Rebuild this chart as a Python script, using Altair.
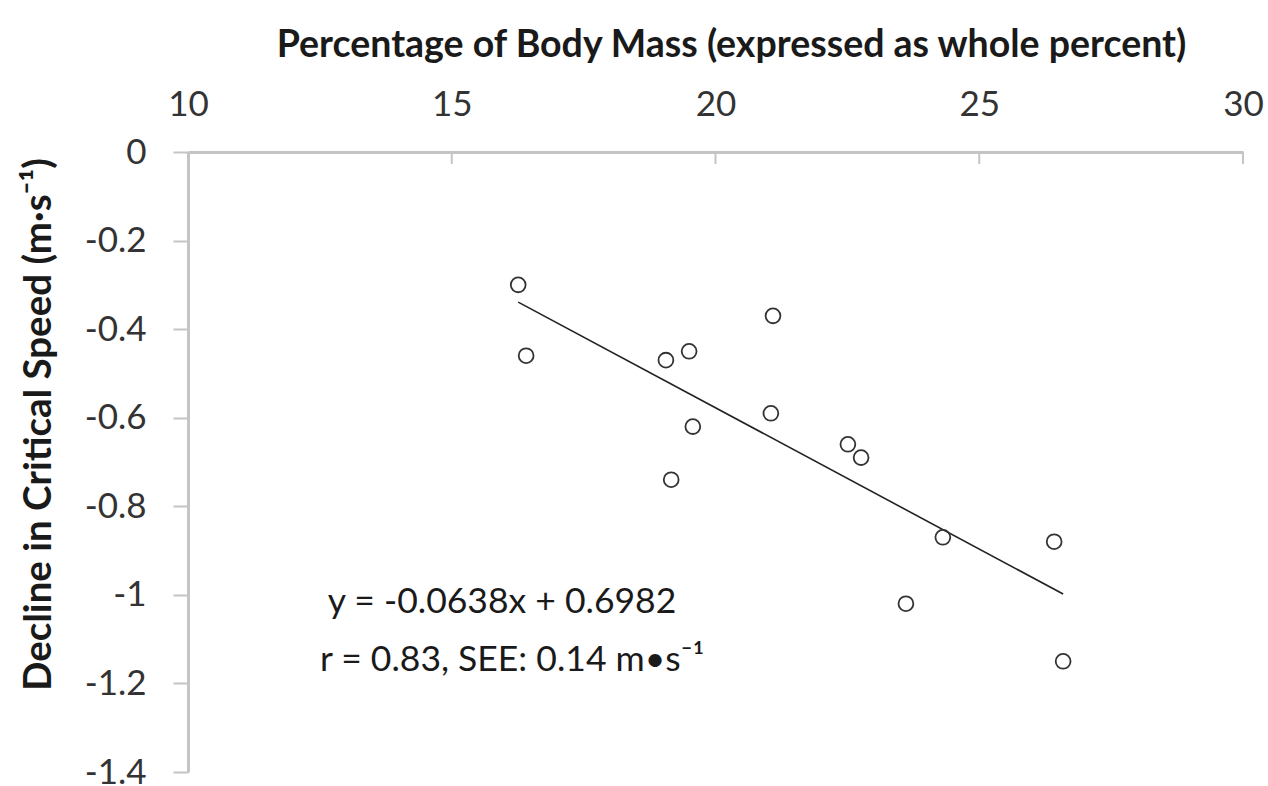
import altair as alt
import pandas as pd

# Data
body_mass_pct = [16.26, 16.41, 19.06, 19.50, 19.57, 19.16, 21.09, 21.05, 22.51, 22.76, 24.31, 23.61, 26.42, 26.59]
cs_decline = [-0.30, -0.46, -0.47, -0.45, -0.62, -0.74, -0.37, -0.59, -0.66, -0.69, -0.87, -1.02, -0.88, -1.15]

trend_x = [16.26, 26.59]
trend_y = [-0.339, -0.998]

x_ticks = [10, 15, 20, 25, 30]
y_ticks = [0, -0.2, -0.4, -0.6, -0.8, -1, -1.2, -1.4]

ann_text = ["y = -0.0638x + 0.6982", "r = 0.83, SEE: 0.14 m\u2022s\u207b\u00b9"]
ann_x = [12.65, 12.50]
ann_y = [-1.016, -1.147]

FONT = "Lato"
AXIS_GRAY = "#c4c4c4"

pts = pd.DataFrame({"x": body_mass_pct, "y": cs_decline})
trend = pd.DataFrame({"x": trend_x, "y": trend_y})
ticks = pd.DataFrame({"x": x_ticks})
ann = pd.DataFrame({"text": ann_text, "x": ann_x, "y": ann_y})

xscale = alt.Scale(domain=[10, 30], nice=False, zero=False)
yscale = alt.Scale(domain=[-1.4, 0], nice=False, zero=False)

xaxis = alt.Axis(
    orient="top", values=x_ticks, ticks=False, grid=False,
    domainColor=AXIS_GRAY, domainWidth=3,
    labelFont=FONT, labelFontSize=35, labelColor="#333333", labelPadding=30,
    labelFlush=False,
    title="Percentage of Body Mass (expressed as whole percent)",
    titleFont=FONT, titleFontSize=37.5, titleFontWeight="bold", titleColor="#1a1a1a",
    titleX=543, titleY=-107, titleBaseline="middle", titleAlign="center",
)
yaxis = alt.Axis(
    values=y_ticks, grid=False, tickColor=AXIS_GRAY, tickWidth=2, tickSize=15,
    domainColor=AXIS_GRAY, domainWidth=3,
    labelFont=FONT, labelFontSize=35, labelColor="#333333", labelPadding=27,
    labelExpr="toString(datum.value)", labelFlush=False,
    title="Decline in Critical Speed (m\u00b7s\u207b\u00b9)",
    titleFont=FONT, titleFontSize=38.5, titleFontWeight="bold", titleColor="#1a1a1a",
    titleAngle=-90, titleX=-150, titleY=272, titleBaseline="middle", titleAlign="center",
)

base_pts = alt.Chart(pts).mark_point(
    shape="circle", filled=False, size=220, stroke="#333333", strokeWidth=1.8, opacity=1
).encode(
    x=alt.X("x:Q", scale=xscale, axis=xaxis),
    y=alt.Y("y:Q", scale=yscale, axis=yaxis),
)

tick_rules = alt.Chart(ticks).mark_rule(color=AXIS_GRAY, strokeWidth=2).encode(
    x=alt.X("x:Q", scale=xscale),
    y=alt.value(0),
    y2=alt.value(12),
)

trend_line = alt.Chart(trend).mark_line(color="#222222", strokeWidth=1.6).encode(
    x=alt.X("x:Q", scale=xscale),
    y=alt.Y("y:Q", scale=yscale),
)

ann_text_layer = alt.Chart(ann).mark_text(
    align="left", baseline="middle", font=FONT, fontSize=35.5, color="#1a1a1a"
).encode(
    x=alt.X("x:Q", scale=xscale),
    y=alt.Y("y:Q", scale=yscale),
    text="text:N",
)

chart = alt.layer(tick_rules, trend_line, base_pts, ann_text_layer).properties(
    width=1055, height=620,
    autosize=alt.AutoSizeParams(type="none"),
    padding={"left": 188, "top": 152, "right": 25, "bottom": 14},
    background="white",
).configure_view(stroke=None)

chart.save("out.html", embed_options={"renderer": "svg", "actions": False})
